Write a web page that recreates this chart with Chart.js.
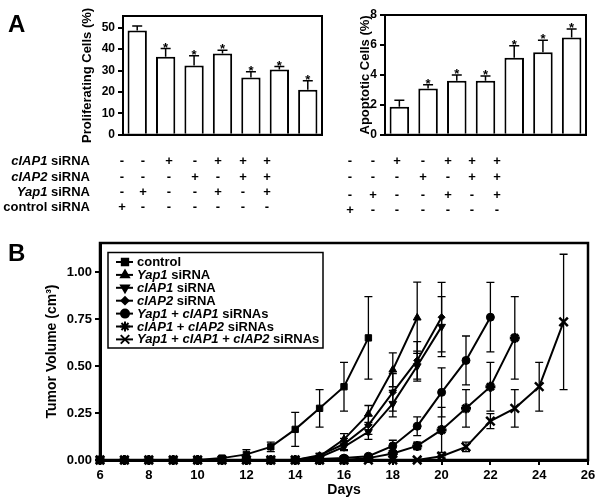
<!DOCTYPE html>
<html>
<head>
<meta charset="utf-8">
<script src="https://cdn.jsdelivr.net/npm/chart.js@4.4.0/dist/chart.umd.min.js"></script>
<style>
  body { margin: 0; background: #fff; font-family: "Liberation Sans", Arial, sans-serif; }
  #page { position: relative; width: 600px; height: 501px; overflow: hidden; }
  canvas { position: absolute; }
  .lbl { position: absolute; font-weight: bold; color: #000; white-space: nowrap; }
  .panel { font-size: 24px; line-height: 24px; }
  .rowname { font-size: 13px; left: 0; width: 90px; text-align: right; transform: translateY(-50%); }
  .sign { font-size: 13px; transform: translate(-50%, -50%); }
</style>
</head>
<body>
<div id="page">
  <canvas id="chartA1" width="330" height="145" style="left:0;top:0"></canvas>
  <canvas id="chartA2" width="300" height="145" style="left:300px;top:0"></canvas>
  <canvas id="chartB" width="600" height="271" style="left:0;top:230px"></canvas>
  <div class="lbl panel" style="left:8px;top:12px">A</div>
  <div class="lbl panel" style="left:8px;top:241px">B</div>
</div>
<script>
// ---- panel A data ----
var groups = ['control', 'Yap1', 'cIAP1', 'cIAP2', 'Yap1 + cIAP1', 'cIAP1 + cIAP2', 'Yap1 + cIAP1 + cIAP2'];
var prolifValues = [48.7, 36.5, 32.4, 38.0, 26.8, 30.5, 21.0];
var prolifErrors = [2.1, 3.8, 4.5, 1.5, 2.6, 1.4, 4.2];
var apoptValues = [1.88, 3.09, 3.61, 3.61, 5.15, 5.51, 6.49];
var apoptErrors = [0.43, 0.26, 0.39, 0.32, 0.79, 0.80, 0.58];
var significant = [false, true, true, true, true, true, true];
var prolifTicks = [0, 10, 20, 30, 40, 50];
var apoptTicks = [0, 2, 4, 6, 8];

// treatment table under the bars
var rowNames = [['cIAP1', ' siRNA'], ['cIAP2', ' siRNA'], ['Yap1', ' siRNA'], ['', 'control siRNA']];
var ciap1Signs = ['-', '-', '+', '-', '+', '+', '+'];
var ciap2Signs = ['-', '-', '-', '+', '-', '+', '+'];
var yap1Signs = ['-', '+', '-', '-', '+', '-', '+'];
var controlSigns = ['+', '-', '-', '-', '-', '-', '-'];

// ---- panel B data ----
var days = [6, 7, 8, 9, 10, 11, 12, 13, 14, 15, 16, 17, 18, 19, 20, 21, 22, 23, 24, 25];
var seriesNames = ['control', 'Yap1 siRNA', 'cIAP1 siRNA', 'cIAP2 siRNA', 'Yap1 + cIAP1 siRNAs', 'cIAP1 + cIAP2 siRNAs', 'Yap1 + cIAP1 + cIAP2 siRNAs'];
var controlVol = [0, 0, 0, 0, 0, 0.01, 0.03, 0.07, 0.163, 0.275, 0.39, 0.65];
var controlErr = [0, 0, 0, 0, 0, 0.005, 0.025, 0.025, 0.09, 0.10, 0.13, 0.22];
var yap1Vol = [0, 0, 0, 0, 0, 0, 0, 0, 0, 0.02, 0.11, 0.245, 0.48, 0.757];
var yap1Err = [0, 0, 0, 0, 0, 0, 0, 0, 0, 0.015, 0.03, 0.045, 0.09, 0.19];
var ciap1Vol = [0, 0, 0, 0, 0, 0, 0, 0, 0, 0.015, 0.07, 0.15, 0.30, 0.50, 0.71];
var ciap1Err = [0, 0, 0, 0, 0, 0, 0, 0, 0, 0.01, 0.02, 0.04, 0.07, 0.08, 0.16];
var ciap2Vol = [0, 0, 0, 0, 0, 0, 0, 0, 0, 0.025, 0.085, 0.186, 0.36, 0.53, 0.76];
var ciap2Err = [0, 0, 0, 0, 0, 0, 0, 0, 0, 0.01, 0.03, 0.05, 0.10, 0.10, 0.185];
var yap1Ciap1Vol = [0, 0, 0, 0, 0, 0, 0, 0, 0, 0.005, 0.01, 0.02, 0.075, 0.18, 0.36, 0.53, 0.76];
var yap1Ciap1Err = [0, 0, 0, 0, 0, 0, 0, 0, 0, 0.003, 0.005, 0.01, 0.03, 0.05, 0.13, 0.13, 0.185];
var ciap12Vol = [0, 0, 0, 0, 0, 0, 0, 0, 0, 0, 0, 0.01, 0.035, 0.075, 0.16, 0.275, 0.39, 0.65];
var ciap12Err = [0, 0, 0, 0, 0, 0, 0, 0, 0, 0, 0, 0.005, 0.015, 0.02, 0.12, 0.10, 0.13, 0.22];
var tripleVol = [0, 0, 0, 0, 0, 0, 0, 0, 0, 0, 0, 0, 0, 0, 0.02, 0.07, 0.207, 0.275, 0.39, 0.735];
var tripleErr = [0, 0, 0, 0, 0, 0, 0, 0, 0, 0, 0, 0, 0, 0, 0.005, 0.025, 0.04, 0.10, 0.13, 0.36];
var volumeTicks = [0, 0.25, 0.5, 0.75, 1.0];

var FONT = '"Liberation Sans", Arial, sans-serif';
Chart.defaults.font.family = FONT;
Chart.defaults.font.weight = 'bold';
Chart.defaults.color = '#000';

// table of + / - signs
var page = document.getElementById('page');
var signRows = [ciap1Signs, ciap2Signs, yap1Signs, controlSigns];
var rowY = [160, 176, 191, 206];
var rightShift = [0, 0, 3, 3];
var leftCols = [122, 143, 169, 195, 218, 243, 267];
var rightCols = [350, 373, 397, 423, 448, 472, 497];
rowNames.forEach(function (parts, r) {
    var d = document.createElement('div');
    d.className = 'lbl rowname';
    d.style.top = rowY[r] + 'px';
    d.innerHTML = (parts[0] ? '<i>' + parts[0] + '</i>' : '') + parts[1];
    page.appendChild(d);
    signRows[r].forEach(function (s, c) {
        [[leftCols[c], rowY[r]], [rightCols[c], rowY[r] + rightShift[r]]].forEach(function (p) {
            var m = document.createElement('div');
            m.className = 'lbl sign';
            m.style.left = p[0] + 'px';
            m.style.top = p[1] + 'px';
            m.textContent = s;
            page.appendChild(m);
        });
    });
});

// box around the plot area
var framePlugin = {
    id: 'frame',
    afterDraw: function (chart, args, opts) {
        var ca = chart.chartArea, ctx = chart.ctx;
        ctx.save();
        ctx.strokeStyle = '#000';
        ctx.lineWidth = opts.width || 2;
        ctx.strokeRect(ca.left, ca.top, ca.right - ca.left, ca.bottom - ca.top);
        ctx.restore();
    }
};

// upward error bars + asterisks on bar charts
var barErrorPlugin = {
    id: 'barErrors',
    afterDatasetsDraw: function (chart, args, opts) {
        var ctx = chart.ctx, ys = chart.scales.y;
        var meta = chart.getDatasetMeta(0);
        var vals = chart.data.datasets[0].data;
        ctx.save();
        ctx.strokeStyle = '#000';
        ctx.fillStyle = '#000';
        ctx.lineWidth = 1.5;
        meta.data.forEach(function (bar, i) {
            var yTop = ys.getPixelForValue(vals[i] + opts.errors[i]);
            ctx.beginPath();
            ctx.moveTo(bar.x, bar.y);
            ctx.lineTo(bar.x, yTop);
            ctx.moveTo(bar.x - 5, yTop);
            ctx.lineTo(bar.x + 5, yTop);
            ctx.stroke();
            if (significant[i]) {
                ctx.font = 'bold 13px ' + FONT;
                ctx.textAlign = 'center';
                ctx.textBaseline = 'alphabetic';
                ctx.fillText('*', bar.x, yTop + 3);
            }
        });
        ctx.restore();
    }
};

function barChart(id, values, errors, ticks, max, title, padLeft, axisWidth, padRight, padTop) {
    return new Chart(document.getElementById(id), {
        type: 'bar',
        data: {
            labels: groups,
            datasets: [{
                data: values,
                backgroundColor: '#fff',
                borderColor: '#000',
                borderWidth: 2,
                borderSkipped: 'bottom',
                categoryPercentage: 1,
                barPercentage: 0.68
            }]
        },
        options: {
            responsive: false,
            animation: false,
            layout: { padding: { left: padLeft, right: padRight, top: padTop, bottom: 7 } },
            plugins: {
                legend: { display: false },
                tooltip: { enabled: false },
                frame: { width: 2 },
                barErrors: { errors: errors }
            },
            scales: {
                x: {
                    ticks: { display: false },
                    grid: { display: false },
                    border: { color: '#000', width: 2 },
                    afterFit: function (s) { s.height = 0; }
                },
                y: {
                    min: 0,
                    max: max,
                    afterBuildTicks: function (s) { s.ticks = ticks.map(function (v) { return { value: v }; }); },
                    afterFit: function (s) { s.width = axisWidth; },
                    ticks: { font: { size: 12, weight: 'bold' }, padding: 3 },
                    grid: { drawOnChartArea: false, tickLength: 5, color: '#000', lineWidth: 2 },
                    border: { color: '#000', width: 2 },
                    title: { display: true, text: title, font: { size: 13, weight: 'bold' }, padding: { top: 4, bottom: 4 } }
                }
            }
        },
        plugins: [framePlugin, barErrorPlugin]
    });
}

barChart('chartA1', prolifValues, prolifErrors, prolifTicks, 55.5, 'Proliferating Cells (%)', 76, 47, 8, 16);
barChart('chartA2', apoptValues, apoptErrors, apoptTicks, 8, 'Apoptotic Cells (%)', 54, 31, 14, 15);

// ---- panel B ----
var volumes = [controlVol, yap1Vol, ciap1Vol, ciap2Vol, yap1Ciap1Vol, ciap12Vol, tripleVol];
var volumeErrs = [controlErr, yap1Err, ciap1Err, ciap2Err, yap1Ciap1Err, ciap12Err, tripleErr];
var markers = [
    { pointStyle: 'rect', radius: 4.5, rotation: 0, borderWidth: 1 },
    { pointStyle: 'triangle', radius: 4.5, rotation: 0, borderWidth: 1 },
    { pointStyle: 'triangle', radius: 4.5, rotation: 180, borderWidth: 1 },
    { pointStyle: 'rectRot', radius: 3.5, rotation: 0, borderWidth: 1 },
    { pointStyle: 'circle', radius: 4, rotation: 0, borderWidth: 1 },
    { pointStyle: 'star', radius: 5, rotation: 0, borderWidth: 3 },
    { pointStyle: 'crossRot', radius: 6, rotation: 0, borderWidth: 2.5 }
];

var volumeErrorPlugin = {
    id: 'volErrors',
    beforeDatasetsDraw: function (chart) {
        var ctx = chart.ctx, xs = chart.scales.x, ys = chart.scales.y;
        ctx.save();
        ctx.strokeStyle = '#000';
        ctx.lineWidth = 1.3;
        volumes.forEach(function (vals, s) {
            vals.forEach(function (v, i) {
                var e = volumeErrs[s][i];
                if (!e) return;
                var x = xs.getPixelForValue(days[i]);
                var y1 = ys.getPixelForValue(v + e), y2 = ys.getPixelForValue(Math.max(v - e, 0));
                ctx.beginPath();
                ctx.moveTo(x, y1); ctx.lineTo(x, y2);
                ctx.moveTo(x - 4, y1); ctx.lineTo(x + 4, y1);
                ctx.moveTo(x - 4, y2); ctx.lineTo(x + 4, y2);
                ctx.stroke();
            });
        });
        ctx.restore();
    }
};

function drawMarker(ctx, m, x, y) {
    if (Chart.helpers && Chart.helpers.drawPoint) {
        Chart.helpers.drawPoint(ctx, { pointStyle: m.pointStyle, rotation: m.rotation, radius: m.radius, borderWidth: m.borderWidth }, x, y);
    } else {
        ctx.fillRect(x - 3, y - 3, 6, 6);
    }
}

var legendPlugin = {
    id: 'boxLegend',
    afterDraw: function (chart) {
        var ctx = chart.ctx, ca = chart.chartArea;
        var bx = ca.left + 8, by = ca.top + 9.5, bw = 215, bh = 95.5;
        ctx.save();
        ctx.strokeStyle = '#000';
        ctx.fillStyle = '#000';
        ctx.lineWidth = 1.5;
        ctx.strokeRect(bx, by, bw, bh);
        seriesNames.forEach(function (name, r) {
            var y = by + 9.5 + r * 12.9;
            ctx.lineWidth = 2;
            ctx.beginPath();
            ctx.moveTo(bx + 8, y);
            ctx.lineTo(bx + 25, y);
            ctx.stroke();
            drawMarker(ctx, markers[r], bx + 17, y);
            var x = bx + 29;
            ctx.textBaseline = 'middle';
            ctx.textAlign = 'left';
            name.split(/(\s+)/).forEach(function (w) {
                var it = /^(Yap1|cIAP1|cIAP2)$/.test(w);
                ctx.font = (it ? 'italic ' : '') + 'bold 13px ' + FONT;
                ctx.fillText(w, x, y + 0.5);
                x += ctx.measureText(w).width;
            });
        });
        ctx.restore();
    }
};

new Chart(document.getElementById('chartB'), {
    type: 'line',
    data: {
        datasets: volumes.map(function (vals, s) {
            return {
                label: seriesNames[s],
                data: vals.map(function (v, i) { return { x: days[i], y: v }; }),
                borderColor: '#000',
                backgroundColor: '#000',
                borderWidth: 2,
                tension: 0,
                clip: false,
                pointStyle: markers[s].pointStyle,
                pointRotation: markers[s].rotation,
                pointRadius: markers[s].radius,
                pointBorderWidth: markers[s].borderWidth,
                pointBackgroundColor: '#000',
                pointBorderColor: '#000'
            };
        })
    },
    options: {
        responsive: false,
        animation: false,
        layout: { padding: { left: 40, right: 12, top: 13, bottom: 0 } },
        plugins: {
            legend: { display: false },
            tooltip: { enabled: false },
            frame: { width: 2.5 }
        },
        scales: {
            x: {
                type: 'linear',
                min: 6,
                max: 26,
                ticks: { stepSize: 2, font: { size: 13, weight: 'bold' }, padding: 3 },
                grid: { drawOnChartArea: false, tickLength: 5, color: '#000', lineWidth: 2 },
                border: { color: '#000', width: 3 },
                afterFit: function (s) { s.height = 41; },
                title: { display: true, text: 'Days', font: { size: 14, weight: 'bold' }, padding: { top: 2, bottom: 2 } }
            },
            y: {
                min: 0,
                max: 1.155,
                afterBuildTicks: function (s) { s.ticks = volumeTicks.map(function (v) { return { value: v }; }); },
                afterFit: function (s) { s.width = 60; },
                ticks: { font: { size: 13, weight: 'bold' }, padding: 3, callback: function (v) { return Number(v).toFixed(2); } },
                grid: { drawOnChartArea: false, tickLength: 5, color: '#000', lineWidth: 2 },
                border: { color: '#000', width: 3 },
                title: { display: true, text: 'Tumor Volume (cm\u00b3)', font: { size: 14, weight: 'bold' }, padding: { top: 4, bottom: 4 } }
            }
        }
    },
    plugins: [framePlugin, volumeErrorPlugin, legendPlugin]
});
</script>
</body>
</html>
